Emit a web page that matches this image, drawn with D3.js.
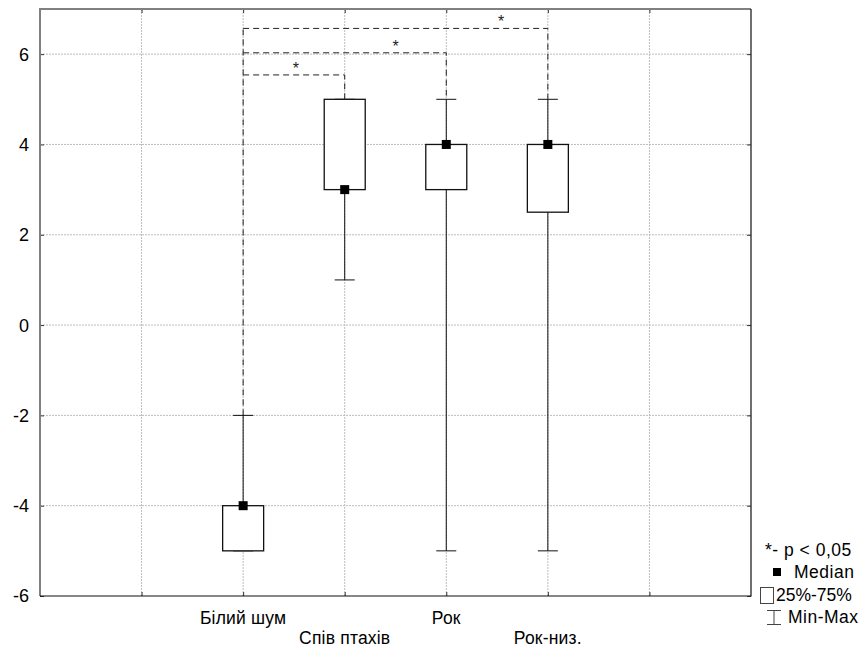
<!DOCTYPE html>
<html>
<head>
<meta charset="utf-8">
<script src="https://cdn.jsdelivr.net/npm/d3@7"></script>
<style>
  body { margin: 0; background: #fff; }
  text { font-family: "Liberation Sans", Arial, sans-serif; }
</style>
</head>
<body>
<div id="my_dataviz"></div>
<script>
// data
const categories = ["Білий шум", "Спів птахів", "Рок", "Рок-низ."];
const positions = [2, 3, 4, 5];
const labelRow = [0, 1, 0, 1];
const medians = [-4, 3, 4, 4];
const q1 = [-5, 3, 3, 2.5];
const q3 = [-4, 5, 4, 4];
const mins = [-5, 1, -5, -5];
const maxs = [-2, 5, 5, 5];
const yTicks = [-6, -4, -2, 0, 2, 4, 6];
const xGrid = [1, 2, 3, 4, 5, 6];
// significance brackets: from first category to category index `to`
const sigTo = [1, 2, 3];
const sigLevel = [5.54, 6.03, 6.57];
const sigStarX = [2.52, 3.5, 4.54];
const legendItems = ["*- p < 0,05", "Median", "25%-75%", "Min-Max"];

const W = 864, H = 648;
const margin = {top: 9, right: 113, bottom: 52, left: 40};
const width = W - margin.left - margin.right,
      height = H - margin.top - margin.bottom;

const svg = d3.select("#my_dataviz")
  .append("svg")
  .attr("width", W)
  .attr("height", H);

const g = svg.append("g")
  .attr("transform", `translate(${margin.left},${margin.top})`);

const x = d3.scaleLinear().domain([0, 7]).range([0, width]);
const y = d3.scaleLinear().domain([-6, 7]).range([height, 0]);

// grid
g.append("g").selectAll("line.hg")
  .data(yTicks.filter(d => d > -6))
  .join("line")
  .attr("x1", 0).attr("x2", width)
  .attr("y1", d => y(d)).attr("y2", d => y(d))
  .attr("stroke", "#bdbdbd").attr("stroke-dasharray", "2,1");
g.append("g").selectAll("line.vg")
  .data(xGrid)
  .join("line")
  .attr("x1", d => x(d)).attr("x2", d => x(d))
  .attr("y1", 0).attr("y2", height)
  .attr("stroke", "#bdbdbd").attr("stroke-dasharray", "2,1");

// axes (inward ticks)
const yAxis = g.append("g")
  .call(d3.axisRight(y).tickValues(yTicks).tickSize(4).tickFormat(""));
yAxis.select(".domain").remove();
const yAxisR = g.append("g").attr("transform", `translate(${width},0)`)
  .call(d3.axisLeft(y).tickValues(yTicks).tickSize(4).tickFormat(""));
yAxisR.select(".domain").remove();
const xAxis = g.append("g").attr("transform", `translate(0,${height})`)
  .call(d3.axisTop(x).tickValues(xGrid).tickSize(4).tickFormat(""));
xAxis.select(".domain").remove();
const xAxisT = g.append("g")
  .call(d3.axisBottom(x).tickValues(xGrid).tickSize(4).tickFormat(""));
xAxisT.select(".domain").remove();
g.selectAll(".tick line").attr("stroke", "#333");

// y tick labels
g.append("g").selectAll("text")
  .data(yTicks)
  .join("text")
  .attr("x", -11)
  .attr("y", d => y(d))
  .attr("dy", "0.36em")
  .attr("text-anchor", "end")
  .attr("font-size", 18)
  .attr("fill", "#000")
  .text(d => d);

// category labels
g.append("g").selectAll("text")
  .data(categories)
  .join("text")
  .attr("x", (d, i) => x(positions[i]))
  .attr("y", (d, i) => height + 28 + labelRow[i] * 20)
  .attr("text-anchor", "middle")
  .attr("font-size", 17.5)
  .attr("letter-spacing", 0.2)
  .attr("fill", "#000")
  .text(d => d);

// significance brackets (dashed)
const dash = "6,4";
const b0 = x(positions[0]);
g.append("line")
  .attr("x1", b0).attr("x2", b0)
  .attr("y1", y(maxs[0])).attr("y2", y(d3.max(sigLevel)))
  .attr("stroke", "#222").attr("stroke-dasharray", dash);
sigTo.forEach((t, k) => {
  const xe = x(positions[t]);
  const ye = y(sigLevel[k]);
  g.append("path")
    .attr("d", `M${b0},${ye}H${xe}V${y(Math.max(q3[t], maxs[t]))}`)
    .attr("fill", "none")
    .attr("stroke", "#222")
    .attr("stroke-dasharray", dash);
  g.append("text")
    .attr("x", x(sigStarX[k]))
    .attr("y", ye - 1)
    .attr("text-anchor", "middle")
    .attr("font-size", 16)
    .attr("fill", "#222")
    .text("*");
});

// boxes
const boxW = 41, capW = 20, medS = 9;
const boxes = g.append("g").selectAll("g")
  .data(categories)
  .join("g");
boxes.append("line")
  .attr("x1", (d, i) => x(positions[i])).attr("x2", (d, i) => x(positions[i]))
  .attr("y1", (d, i) => y(mins[i])).attr("y2", (d, i) => y(maxs[i]))
  .attr("stroke", "#111");
boxes.append("line")
  .attr("x1", (d, i) => x(positions[i]) - capW / 2).attr("x2", (d, i) => x(positions[i]) + capW / 2)
  .attr("y1", (d, i) => y(mins[i])).attr("y2", (d, i) => y(mins[i]))
  .attr("stroke", "#111");
boxes.append("line")
  .attr("x1", (d, i) => x(positions[i]) - capW / 2).attr("x2", (d, i) => x(positions[i]) + capW / 2)
  .attr("y1", (d, i) => y(maxs[i])).attr("y2", (d, i) => y(maxs[i]))
  .attr("stroke", "#111");
boxes.append("rect")
  .attr("x", (d, i) => x(positions[i]) - boxW / 2)
  .attr("y", (d, i) => y(q3[i]))
  .attr("width", boxW)
  .attr("height", (d, i) => y(q1[i]) - y(q3[i]))
  .attr("fill", "#fff")
  .attr("stroke", "#111")
  .attr("stroke-width", 1.3);
boxes.append("rect")
  .attr("x", (d, i) => x(positions[i]) - medS / 2)
  .attr("y", (d, i) => y(medians[i]) - medS / 2)
  .attr("width", medS).attr("height", medS)
  .attr("fill", "#000");

// frame
g.append("path").attr("d", `M0,${height}V0H${width}`)
  .attr("fill", "none").attr("stroke", "#808080").attr("stroke-width", 2);
g.append("path").attr("d", `M${width},0V${height}H0`)
  .attr("fill", "none").attr("stroke", "#111").attr("stroke-width", 1.2);

// legend
const lg = svg.append("g").attr("font-size", 17.5).attr("letter-spacing", 0.5);
lg.append("text").attr("x", 765).attr("y", 556).text(legendItems[0]);
lg.append("rect").attr("x", 773).attr("y", 568).attr("width", 8).attr("height", 8).attr("fill", "#000");
lg.append("text").attr("x", 794).attr("y", 578).text(legendItems[1]);
lg.append("rect").attr("x", 760.5).attr("y", 587.5).attr("width", 13).attr("height", 16)
  .attr("fill", "#fff").attr("stroke", "#444");
lg.append("text").attr("x", 776).attr("y", 601).attr("letter-spacing", 0).text(legendItems[2]);
lg.append("path").attr("d", "M767,610.5H781M774,610.5V624.5M767,624.5H781")
  .attr("fill", "none").attr("stroke", "#444");
lg.append("text").attr("x", 788).attr("y", 623).text(legendItems[3]);
</script>
</body>
</html>
